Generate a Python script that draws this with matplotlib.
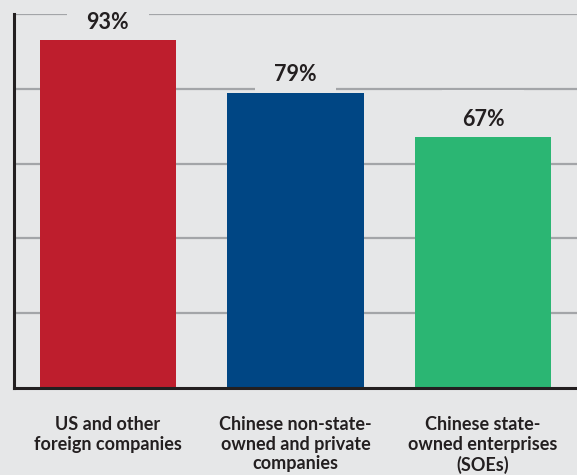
import matplotlib
matplotlib.use("Agg")
import matplotlib.pyplot as plt

categories = ["US and other\nforeign companies",
              "Chinese non-state-\nowned and private\ncompanies",
              "Chinese state-\nowned enterprises\n(SOEs)"]
values = [93, 79, 67]
colors = ["#be1e2d", "#004684", "#2bb673"]
bg = "#e6e7e8"

plt.rcParams['font.family'] = ['Lato', 'DejaVu Sans']

fig = plt.figure(figsize=(5.77, 4.75), dpi=100, facecolor=bg)
ax = fig.add_axes([14/577, 1-388/475, 563/577, 374/475])
ax.set_facecolor(bg)
ax.set_axisbelow(True)

x = list(range(len(values)))
ax.bar(x, values, width=0.725, color=colors, zorder=3)
ax.set_xlim(-0.5, 2.5)
ax.set_ylim(0, 100)

ax.set_yticks([20, 40, 60, 80, 100])
ax.yaxis.grid(True, color="#a3a5a8", linewidth=1.6)
ax.tick_params(axis='y', length=0, labelleft=False)

for s in ['top', 'right']:
    ax.spines[s].set_visible(False)
for s in ['left', 'bottom']:
    ax.spines[s].set_color("#231f20")
    ax.spines[s].set_linewidth(2.2)
    ax.spines[s].set_zorder(4)

ax.set_xticks(x)
ax.set_xticklabels(categories, fontsize=13, fontweight='bold', color="#231f20",
                   linespacing=1.2)
ax.tick_params(axis='x', length=0, pad=20)

for xi, v in zip(x, values):
    ax.text(xi, v + 4.8, f"{v}%", ha='center', va='center', fontsize=15.5,
            fontweight='bold', color="#231f20", zorder=2,
            bbox=dict(boxstyle='square,pad=0.9', facecolor=bg, edgecolor='none'))

fig.savefig("out.png", dpi=100, facecolor=bg)
